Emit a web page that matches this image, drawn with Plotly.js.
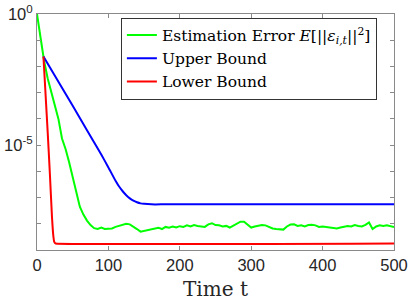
<!DOCTYPE html>
<html>
<head>
<meta charset="utf-8">
<script src="https://cdn.plot.ly/plotly-3.0.1.min.js"></script>
<style>
html,body{margin:0;padding:0;background:#fff;}
#chart{width:409px;height:307px;}
</style>
</head>
<body>
<div id="chart"></div>
<script>
// Estimation error (green), read every 5 steps
const greenT = [0,5,10,15,20,25,30,35,40,45,50,55,60,65,70,75,80,85,90,95,100,
  105,110,115,120,125,130,135,140,145,150,155,160,165,170,175,180,185,190,195,200,
  205,210,215,220,225,230,235,240,245,250,255,260,265,270,275,280,285,290,295,300,
  305,310,315,320,325,330,335,340,345,350,355,360,365,370,375,380,385,390,395,400,
  405,410,415,420,425,430,435,440,445,450,455,460,465,470,475,480,485,490,495,500];
const greenVal = [1,1.05e-1,1.58e-2,3.5e-3,1.12e-3,3.5e-4,1.0e-4,1.78e-5,7.1e-6,2.24e-6,5.6e-7,
  1.58e-7,4.5e-8,2.24e-8,1.32e-8,8.9e-9,6.8e-9,6.3e-9,7.1e-9,6.3e-9,6.3e-9,
  6.6e-9,7.6e-9,8.3e-9,9.5e-9,1.0e-8,9.5e-9,7.9e-9,6.3e-9,5.0e-9,5.4e-9,
  6.0e-9,6.3e-9,6.6e-9,7.1e-9,6.3e-9,7.6e-9,7.1e-9,7.9e-9,7.2e-9,8.1e-9,
  7.6e-9,8.7e-9,7.9e-9,8.9e-9,8.3e-9,7.9e-9,7.6e-9,9.5e-9,1.05e-8,8.9e-9,
  8.7e-9,7.9e-9,8.3e-9,7.2e-9,8.5e-9,1.0e-8,1.2e-8,1.2e-8,8.9e-9,7.2e-9,
  7.9e-9,8.3e-9,8.9e-9,8.7e-9,7.6e-9,6.6e-9,6.3e-9,6.3e-9,6.0e-9,7.9e-9,
  9.3e-9,9.5e-9,8.3e-9,8.7e-9,7.9e-9,8.9e-9,9.1e-9,8.7e-9,7.6e-9,7.9e-9,
  7.6e-9,7.1e-9,6.6e-9,6.6e-9,7.2e-9,7.9e-9,8.3e-9,7.9e-9,8.9e-9,8.3e-9,
  7.9e-9,9.1e-9,1.12e-8,6.3e-9,7.9e-9,8.7e-9,8.3e-9,8.7e-9,7.9e-9,7.6e-9];

// Upper bound (blue)
const upperT   = [9,30,50,70,90,100,110,115,120,125,130,135,140,145,150,160,180,500];
const upperVal = [2.4e-2,2.63e-3,3.16e-4,3.72e-5,4.37e-6,1.41e-6,4.37e-7,2.63e-7,1.74e-7,
  1.23e-7,9.3e-8,7.6e-8,6.6e-8,6.0e-8,5.75e-8,5.5e-8,5.5e-8,5.5e-8];

// Lower bound (red)
const lowerT   = [9,12,15,18,21,23,24,25,26,500];
const lowerVal = [2.4e-2,8.5e-4,3.0e-5,8.5e-7,1.8e-8,3.2e-9,2.1e-9,1.86e-9,1.78e-9,1.78e-9];

const seriesNames = [
  "Estimation Error <i>E</i>[||<i>ε</i><sub><i>i,t</i></sub>||<sup>2</sup>]",
  "Upper Bound",
  "Lower Bound"
];
const xTicks = [0,100,200,300,400,500];
const yTickVals = [1,1e-5];
const yTickText = ["10<sup>0</sup>","10<sup>-5</sup>"];
const yMinorVals = [1e-1,1e-2,1e-3,1e-4,1e-6,1e-7,1e-8];

const traces = [
  {x: greenT, y: greenVal, name: seriesNames[0], mode: "lines",
   line: {color: "#00ff00", width: 2}},
  {x: upperT, y: upperVal, name: seriesNames[1], mode: "lines",
   line: {color: "#0000ff", width: 2, shape: "spline", smoothing: 0.5}},
  {x: lowerT, y: lowerVal, name: seriesNames[2], mode: "lines",
   line: {color: "#ff0000", width: 2, shape: "spline", smoothing: 0.4}}
];

const serif = "DejaVu Serif";
const axisCommon = {
  showline: true, linecolor: "#8a8a8a", linewidth: 1, mirror: "ticks",
  ticks: "inside", ticklen: 4, tickcolor: "#8a8a8a", showgrid: false, zeroline: false,
  tickfont: {family: "Liberation Sans, Arial, sans-serif", size: 16.5, color: "#262626"}
};

const layout = {
  width: 409, height: 307,
  margin: {l: 37, r: 14.5, t: 14, b: 57},
  paper_bgcolor: "#fff", plot_bgcolor: "#fff",
  showlegend: true,
  xaxis: Object.assign({}, axisCommon, {
    range: [0, 500], tickvals: xTicks,
    title: {text: "Time t", font: {family: serif, size: 20, color: "#262626"}, standoff: 9}
  }),
  yaxis: Object.assign({}, axisCommon, {
    type: "log", range: [-9, 0], tickvals: yTickVals, ticktext: yTickText,
    minor: {tickvals: yMinorVals, ticks: "inside", ticklen: 4, tickcolor: "#8a8a8a", showgrid: false}
  }),
  legend: {
    x: 0.235, y: 0.985, xanchor: "left", yanchor: "top",
    bgcolor: "#fff", bordercolor: "#333", borderwidth: 1,
    font: {family: serif, size: 15.5, color: "#000"},
    tracegroupgap: 0
  }
};

Plotly.newPlot("chart", traces, layout, {displayModeBar: false, staticPlot: true});
</script>
</body>
</html>
